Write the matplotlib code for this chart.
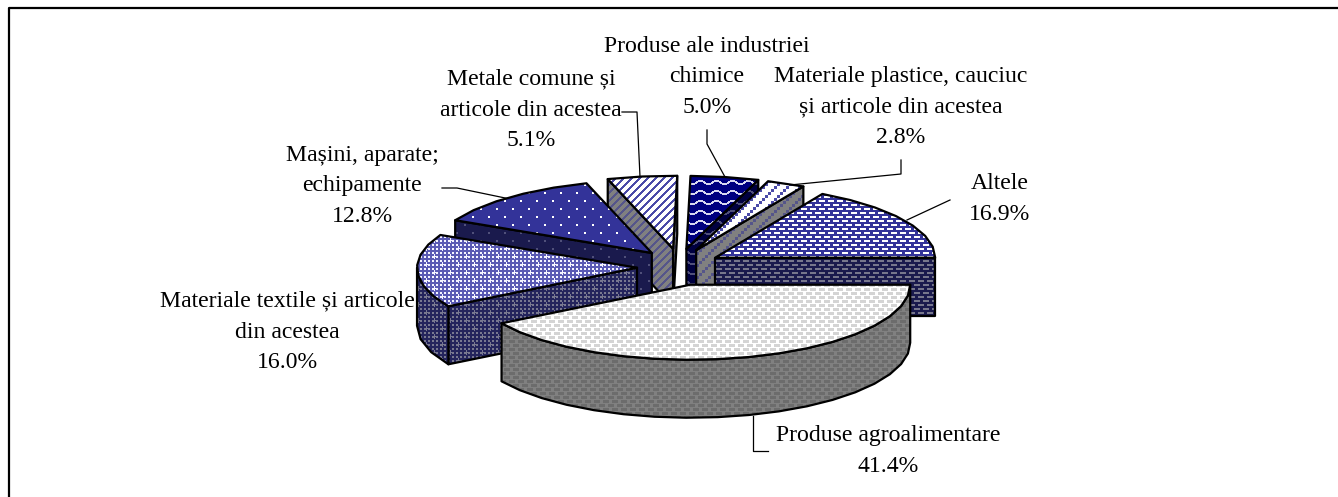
"""
Exploded 3D-look pie, drawn by hand on a pixel-sized axes (matplotlib has no 3D pie).
"""

import matplotlib

matplotlib.use("Agg")
import matplotlib.pyplot as plt
import numpy as np
from matplotlib.patches import Polygon

# data, in drawing order round the pie (clockwise from 3 o'clock)
CATEGORIES = [
    "Produse agroalimentare",
    "Materiale textile și articole\ndin acestea",
    "Mașini, aparate;\nechipamente",
    "Metale comune și\narticole din acestea",
    "Produse ale industriei\nchimice",
    "Materiale plastice, cauciuc\nși articole din acestea",
    "Altele",
]
SHARES = [41.4, 16.0, 12.8, 5.1, 5.0, 2.8, 16.9]

# layout, all in image pixels
W, H = 1338, 497
CX, CY = 679, 267
RX, RY, RY_BACK = 220, 75, 73
DEPTH = 58
EXPLODE_X, EXPLODE_Y = 42, 18.4
LABEL_XY = [(888, 451), (287, 332), (362, 186), (531, 110), (707, 77), (901, 107), (1000, 199)]
LEADERS = [
    [(753, 416), (753, 451), (768, 451)],
    None,
    [(442, 188), (457, 188), (510, 199)],
    [(622, 112), (637, 112), (640, 177)],
    [(707, 130), (707, 144), (725, 177)],
    [(901, 160), (901, 174), (790, 185)],
    [(907, 220), (950, 200)],
]

YY, XX = np.mgrid[0:H, 0:W]


def staggered(px, py, dw, dh):
    a = (XX % px < dw) & (YY % py < dh)
    b = ((XX + px // 2) % px < dw) & ((YY + py // 2) % py < dh)
    return a | b


def waves():
    ys = 2 + 1.6 * np.sin(2 * np.pi * XX / 16)
    return np.abs((YY % 10) - ys) < 1.1


def textile():
    grid = (XX % 4 < 2) & (YY % 4 < 2)
    horiz = staggered(16, 16, 5, 1)
    vert = np.roll(staggered(16, 16, 1, 5), (-2, 2), axis=(0, 1))
    return grid, horiz | vert


def texture(mask, fg, bg):
    img = np.empty((H, W, 3))
    img[:] = matplotlib.colors.to_rgb(bg)
    img[mask] = matplotlib.colors.to_rgb(fg)
    return img


GRID, CROSS = textile()
TEX_TOP = [
    texture(staggered(9, 8, 6, 3), "#d4d4d4", "#ffffff"),
    texture(GRID | CROSS, "#f4f4ff", "#5a5ab4"),
    texture(staggered(16, 16, 2, 2), "#ffffff", "#333399"),
    texture((XX + YY) % 8 < 3, "#4a4aa8", "#ffffff"),
    texture(waves(), "#d8d8f0", "#000080"),
    texture((XX // 3 + YY // 3) % 4 == 0, "#4a4aa8", "#ffffff"),
    texture(staggered(9, 8, 6, 2), "#ffffff", "#333399"),
]
TEX_SIDE = [
    texture(staggered(9, 8, 6, 3), "#6c6c6c", "#808080"),
    texture(GRID | CROSS, "#787890", "#24245c"),
    texture(staggered(16, 16, 2, 2), "#50507a", "#1a1a4d"),
    texture((XX + YY) % 8 < 3, "#55558a", "#808080"),
    texture(waves(), "#50507a", "#000040"),
    texture((XX // 3 + YY // 3) % 4 == 0, "#55558a", "#808080"),
    texture(staggered(9, 8, 6, 2), "#77778c", "#1a1a4d"),
]


def arc(x0, y0, a0, a1):
    n = max(2, int((a1 - a0) / 8) + 1)
    t = np.radians(np.linspace(a0, a1, n))
    ry = np.where(np.sin(t) < 0, RY_BACK, RY)
    return np.column_stack([x0 + RX * np.cos(t), y0 + ry * np.sin(t)])


def face(ax, pts, tex, zorder):
    outline = Polygon(pts, closed=True, fill=False, ec="black", lw=1.6, joinstyle="round", zorder=zorder + 0.1)
    ax.add_patch(outline)
    im = ax.imshow(tex, extent=(0, W, H, 0), interpolation="nearest", aspect="auto", zorder=zorder)
    im.set_clip_path(outline)


def extrude(pts):
    lower = pts[::-1] + np.array([0, DEPTH])
    return np.vstack([pts, lower])


def main():
    plt.rcParams["font.family"] = ["Liberation Serif", "DejaVu Serif"]
    fig = plt.figure(figsize=(W / 100, H / 100), dpi=100, facecolor="white")
    ax = fig.add_axes([0, 0, 1, 1])
    ax.set_axis_off()

    edges = np.concatenate([[0], np.cumsum(SHARES)]) / sum(SHARES) * 360
    mids = (edges[:-1] + edges[1:]) / 2

    # back slices first, so the nearer ones paint over them
    order = np.argsort(np.sin(np.radians(mids)))
    for z, i in enumerate(order):
        a0, a1, mid = edges[i], edges[i + 1], np.radians(mids[i])
        x0 = CX + EXPLODE_X * np.cos(mid)
        y0 = CY + EXPLODE_Y * np.sin(mid)
        apex = np.array([x0, y0])
        base = 10 + z * 2
        top = arc(x0, y0, a0, a1)

        # cut faces: only those turned towards the viewer
        if np.cos(np.radians(a0)) < 0:
            face(ax, extrude(np.vstack([apex, top[0]])), TEX_SIDE[i], base)
        if np.cos(np.radians(a1)) > 0:
            face(ax, extrude(np.vstack([apex, top[-1]])), TEX_SIDE[i], base)

        # rim, front half only
        lo, hi = max(a0, 0), min(a1, 180)
        if hi > lo:
            face(ax, extrude(arc(x0, y0, lo, hi)), TEX_SIDE[i], base + 0.5)

        face(ax, np.vstack([apex, top]), TEX_TOP[i], base + 1)

    for name, share, (x, y), leader in zip(CATEGORIES, SHARES, LABEL_XY, LEADERS):
        ax.text(x, y, f"{name}\n{share:.1f}%", ha="center", va="center", fontsize=17.1,
                linespacing=1.62, color="black", zorder=60)
        if leader:
            xs, ys = zip(*leader)
            ax.plot(xs, ys, color="black", lw=0.9, zorder=5)

    # chart frame: only top and left show in the crop
    ax.plot([8.5, 8.5, W], [H, 8, 8], color="black", lw=1.6, zorder=70)

    ax.set_xlim(0, W)
    ax.set_ylim(H, 0)
    fig.savefig("out.png", dpi=100, facecolor="white")


if __name__ == "__main__":
    main()
